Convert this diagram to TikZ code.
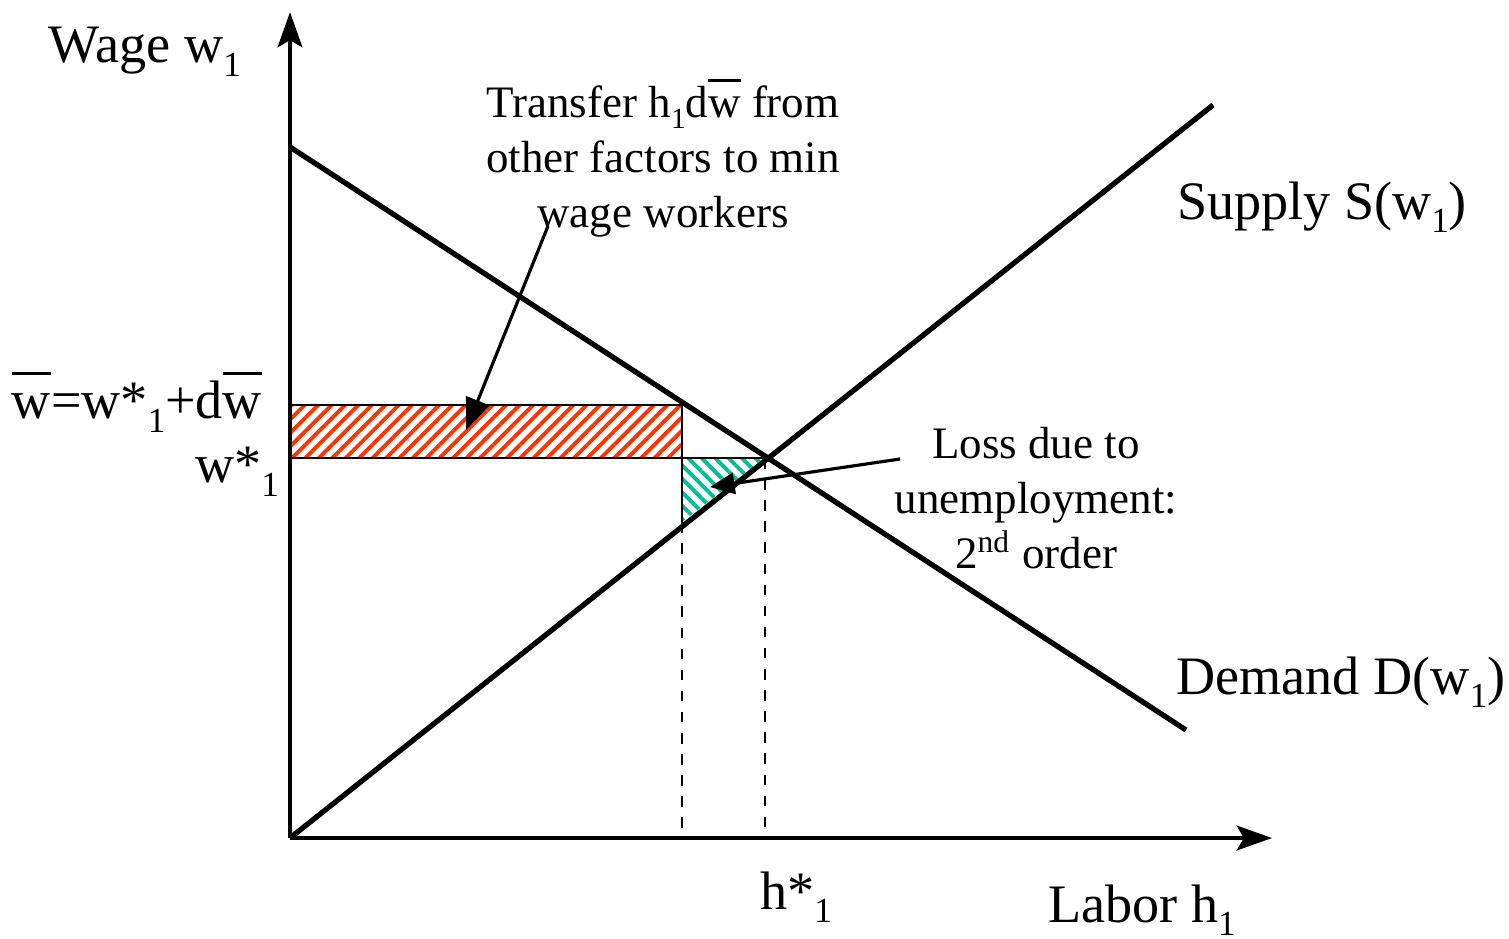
\documentclass[tikz,border=0pt]{standalone}
\usepackage{fontspec}
\setmainfont{Liberation Serif}
\usetikzlibrary{arrows.meta,calc,positioning,patterns.meta}

\definecolor{hatchred}{RGB}{255,51,0}
\definecolor{hatchgreen}{RGB}{0,190,150}
\newcommand{\wbar}{\makebox[0pt][l]{\raisebox{0.8em}{\rule{0.72em}{0.06em}}}w}
\newcommand{\sub}[1]{\raisebox{-0.25em}{\scalebox{0.65}{#1}}}
\tikzset{
  bigtext/.style={font=\fontsize{15.4}{18}\selectfont},
  notetext/.style={font=\fontsize{12.8}{15.6}\selectfont,align=center},
}

\begin{document}
\begin{tikzpicture}[x=0.01cm,y=-0.01cm]
\useasboundingbox (0,0) rectangle (1509,938);

\coordinate (origin) at (290,838);
\coordinate (ytop) at (290,12);
\coordinate (xend) at (1272,838);

\coordinate (dtop) at (290,147);
\coordinate (dbot) at (1186,730);
\coordinate (stop) at (1213,105);

\coordinate (wbarleft) at (290,405);
\coordinate (kink) at (682,405);
\coordinate (wstarleft) at (290,458);
\coordinate (eq) at (765,458);
\coordinate (kinkstar) at (682,458);
\coordinate (kinksup) at (682,522);
\coordinate (kinkfoot) at (682,838);
\coordinate (eqfoot) at (765,838);

% hatched areas
\fill[pattern={Lines[angle=45,distance=2.7pt,line width=1.1pt]},pattern color=hatchred]
  (wbarleft) rectangle (kinkstar);
\fill[pattern={Lines[angle=-45,distance=2.7pt,line width=1.1pt]},pattern color=hatchgreen]
  (kinkstar) -- (eq) -- (kinksup) -- cycle;

\draw [thin] (wbarleft) -- (kink) -- (kinksup);
\draw [thin] (wstarleft) -- (eq);
\draw [thin,dashed] (kinksup) -- (kinkfoot);
\draw [thin,dashed] (eq) -- (eqfoot);

% axes
\draw [line width=1.3pt,-{Stealth[length=10pt,width=7pt,inset=2pt]}] (origin) -- (ytop);
\draw [line width=1.3pt,-{Stealth[length=10pt,width=7pt,inset=2pt]}] (origin) -- (xend);

% demand and supply
\draw [line width=1.5pt] (dtop) -- (dbot);
\draw [line width=1.5pt] (origin) -- (stop);

\node[bigtext] (wage) at (145,52) {Wage w\sub{1}};
\node[bigtext] (labor) at (1142,910) {Labor h\sub{1}};
\node[bigtext] (supply) at (1322,207) {Supply S(w\sub{1})};
\node[bigtext] (demand) at (1341,682) {Demand D(w\sub{1})};
\node[bigtext] (wbarlab) at (137,402) {\wbar=w*\sub{1}+d\wbar};
\node[bigtext] (wstarlab) at (237,472) {w*\sub{1}};
\node[bigtext] (hstarlab) at (796,897) {h*\sub{1}};

\node[notetext] (transfer) at (663,158)
  {Transfer h\sub{1}d\wbar{} from\\ other factors to min\\ wage workers};
\node[notetext] (loss) at (1036,498)
  {Loss due to\\ unemployment:\\ 2\textsuperscript{nd} order};

\coordinate (transferfrom) at (548,226);
\coordinate (transferto) at (466,430);
\coordinate (lossfrom) at (900,459);
\coordinate (lossto) at (710,487);

\draw [line width=0.9pt,-{Triangle[length=9pt,width=7pt]}] (transferfrom) -- (transferto);
\draw [line width=0.9pt,-{Triangle[length=7pt,width=6pt]}] (lossfrom) -- (lossto);
\end{tikzpicture}
\end{document}
